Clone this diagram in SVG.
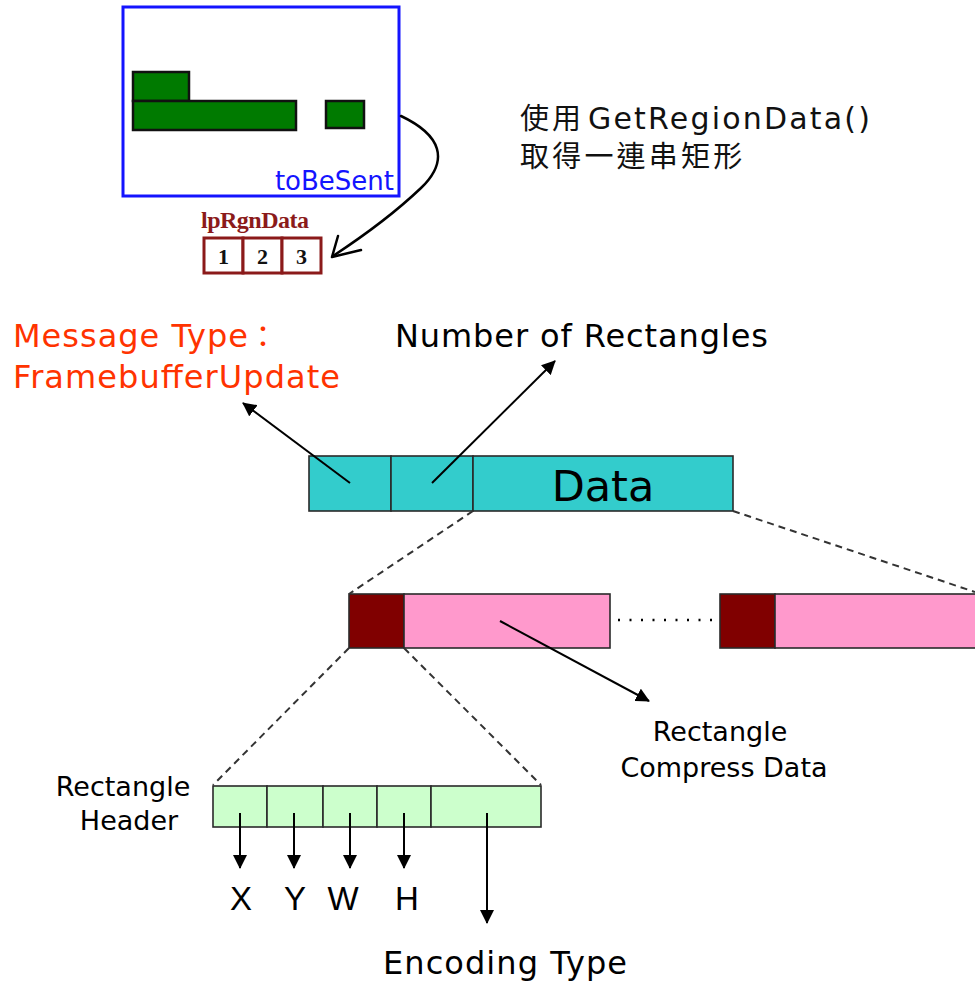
<svg xmlns="http://www.w3.org/2000/svg" width="975" height="982" viewBox="0 0 975 982">
  <defs>
    <marker id="tri" viewBox="0 0 14 14" refX="13" refY="7" markerWidth="14" markerHeight="14" orient="auto" markerUnits="userSpaceOnUse">
      <path d="M0,0 L14,7 L0,14 z" fill="#000"/>
    </marker>
  </defs>
  <style>
    .sans { font-family: "DejaVu Sans", Verdana, sans-serif; }
    .cjk { font-family: "Noto Sans CJK TC", "Noto Sans CJK SC", sans-serif; }
    .cell { stroke: #2a2a2a; stroke-width: 1.6; }
    .cyan { fill: #33CCCC; }
    .pink { fill: #FF99CC; }
    .maroon { fill: #800000; }
    .mint { fill: #CCFFCC; }
    .green { fill: #007A00; stroke: #111; stroke-width: 2.5; }
    .num { fill: #fff; stroke: #8B1A1A; stroke-width: 3; }
    .digit { font-family: "Liberation Serif", "Times New Roman", serif; font-weight: bold; font-size: 22px; fill: #111; }
    .arrow { stroke: #000; stroke-width: 2; fill: none; marker-end: url(#tri); }
    .dash { stroke: #333; stroke-width: 2; stroke-dasharray: 7 5; fill: none; }
    .label { font-size: 32px; fill: #000; }
    .small { font-size: 27px; fill: #000; }
  </style>
  <rect width="975" height="982" fill="#fff"/>

  <!-- region buffer with its rectangles -->
  <g id="toBeSent">
    <rect x="123" y="7" width="276" height="189" fill="#fff" stroke="#1414FF" stroke-width="3"/>
    <rect class="green" x="133" y="72" width="56" height="29"/>
    <rect class="green" x="133" y="101" width="163" height="29"/>
    <rect class="green" x="326" y="101" width="38" height="27"/>
    <text class="sans" x="394" y="190" font-size="26" fill="#1414FF" text-anchor="end">toBeSent</text>
  </g>

  <!-- region data array -->
  <g id="lpRgnData">
    <text x="201" y="228" font-family="Liberation Serif, Times New Roman, serif" font-weight="bold" font-size="24" fill="#8B1A1A" textLength="108">lpRgnData</text>
    <rect class="num" x="204" y="238" width="39" height="35"/>
    <rect class="num" x="243" y="238" width="39" height="35"/>
    <rect class="num" x="282" y="238" width="39" height="35"/>
    <text class="digit" x="223.5" y="263.5" text-anchor="middle">1</text>
    <text class="digit" x="262.5" y="263.5" text-anchor="middle">2</text>
    <text class="digit" x="301.5" y="263.5" text-anchor="middle">3</text>
  </g>

  <g id="note">
    <text class="cjk" x="520" y="129" font-size="29" letter-spacing="3" fill="#111">使用</text>
    <text class="sans" x="588" y="129" font-size="30" fill="#111" textLength="282">GetRegionData()</text>
    <text class="cjk" x="520" y="167" font-size="29" letter-spacing="3.2" fill="#111">取得一連串矩形</text>
  </g>

  <!-- message layout -->
  <g id="message">
    <rect class="cell cyan" x="309" y="456" width="82" height="55"/>
    <rect class="cell cyan" x="391" y="456" width="82" height="55"/>
    <rect class="cell cyan" x="473" y="456" width="260" height="55"/>
    <text class="sans" x="603" y="501" font-size="43" text-anchor="middle" fill="#000">Data</text>
  </g>

  <g id="rect1">
    <rect class="cell maroon" x="349" y="594" width="55" height="54"/>
    <rect class="cell pink" x="404" y="594" width="206" height="54"/>
  </g>

  <g id="rectN">
    <rect class="cell maroon" x="720" y="594" width="55" height="54"/>
    <rect class="cell pink" x="775" y="594" width="210" height="54"/>
  </g>

  <g id="header">
    <rect class="cell mint" x="213" y="786" width="54" height="41"/>
    <rect class="cell mint" x="267" y="786" width="56" height="41"/>
    <rect class="cell mint" x="323" y="786" width="54" height="41"/>
    <rect class="cell mint" x="377" y="786" width="54" height="41"/>
    <rect class="cell mint" x="431" y="786" width="110" height="41"/>
  </g>

  <!-- labels -->
  <g id="labels">
    <text class="sans" x="13" y="347" font-size="32" fill="#FF3300" textLength="235">Message Type</text>
    <text class="cjk" x="248" y="347" font-size="30" fill="#FF3300">：</text>
    <text class="sans" x="13" y="388" font-size="32" fill="#FF3300" textLength="327">FramebufferUpdate</text>
    <text class="sans label" x="395" y="347" textLength="373">Number of Rectangles</text>
    <text class="sans small" x="720" y="741" text-anchor="middle">Rectangle</text>
    <text class="sans small" x="724" y="777" text-anchor="middle">Compress Data</text>
    <text class="sans small" x="123" y="796" text-anchor="middle">Rectangle</text>
    <text class="sans small" x="129" y="830" text-anchor="middle">Header</text>
    <text x="241" y="910" font-family="Liberation Sans, Arial, sans-serif" font-size="33" text-anchor="middle">X</text>
    <text x="295" y="910" font-family="Liberation Sans, Arial, sans-serif" font-size="33" text-anchor="middle">Y</text>
    <text x="343" y="910" font-family="Liberation Sans, Arial, sans-serif" font-size="33" text-anchor="middle">W</text>
    <text x="407" y="910" font-family="Liberation Sans, Arial, sans-serif" font-size="33" text-anchor="middle">H</text>
    <text class="sans label" x="505" y="974" text-anchor="middle" textLength="244">Encoding Type</text>
  </g>

  <!-- connectors -->
  <g id="connectors">
    <path d="M401,116 C441,135 450,160 421,188 C400,208 365,235 333,256" stroke="#000" stroke-width="2.5" fill="none" stroke-linecap="round"/>
    <path d="M338,236 L332,257 L361,250" stroke="#000" stroke-width="2.5" fill="none" stroke-linecap="round" stroke-linejoin="round"/>

    <line class="arrow" x1="350" y1="483" x2="243" y2="403"/>
    <line class="arrow" x1="432" y1="483" x2="555" y2="361"/>
    <line class="arrow" x1="500" y1="621" x2="649" y2="701"/>

    <line class="dash" x1="473" y1="511" x2="349" y2="594"/>
    <line class="dash" x1="733" y1="511" x2="975" y2="592"/>
    <line class="dash" x1="349" y1="648" x2="213" y2="785"/>
    <line class="dash" x1="404" y1="648" x2="541" y2="785"/>
    <line x1="618" y1="620" x2="712" y2="620" stroke="#000" stroke-width="2.5" stroke-dasharray="2 9.5"/>

    <line class="arrow" x1="240" y1="813" x2="240" y2="868"/>
    <line class="arrow" x1="294" y1="813" x2="294" y2="868"/>
    <line class="arrow" x1="350" y1="813" x2="350" y2="868"/>
    <line class="arrow" x1="404" y1="813" x2="404" y2="868"/>
    <line class="arrow" x1="487" y1="813" x2="487" y2="923"/>
  </g>
</svg>
